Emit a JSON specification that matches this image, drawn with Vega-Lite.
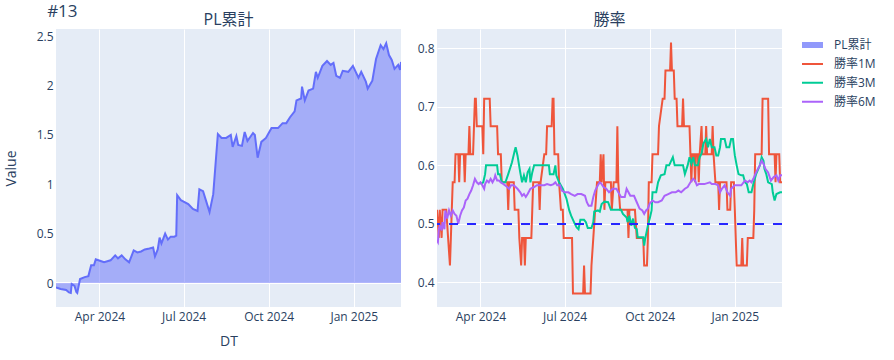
{
"$schema": "https://vega.github.io/schema/vega-lite/v6.json",
"background": "white",
"padding": {"left": 4, "top": 3, "right": 0, "bottom": 0},
"title": {"text": "#13", "anchor": "start", "fontSize": 17, "fontWeight": "normal", "color": "#2a3f5f", "offset": -22, "dx": 43, "baseline": "alphabetic"},
"config": {
  "font": "Open Sans, Noto Sans CJK JP, sans-serif",
  "view": {"fill": "#E5ECF6", "stroke": null},
  "axis": {"gridColor": "white", "gridWidth": 1, "domain": false, "ticks": false, "labelColor": "#2a3f5f", "labelFontSize": 12, "titleColor": "#2a3f5f", "titleFontSize": 14, "titleFontWeight": "normal"},
  "title": {"fontSize": 16, "fontWeight": "normal", "color": "#2a3f5f", "baseline": "alphabetic", "offset": 1},
  "legend": {"labelColor": "#2a3f5f", "labelFontSize": 12}
},
"datasets": {
"pl": [
{"d":"2024-02-14","v":-0.044},{"d":"2024-02-19","v":-0.06},{"d":"2024-02-25","v":-0.07},{"d":"2024-02-28","v":-0.095},{"d":"2024-03-01","v":-0.10},{"d":"2024-03-02","v":-0.01},{"d":"2024-03-05","v":-0.03},{"d":"2024-03-07","v":-0.09},{"d":"2024-03-08","v":-0.10},{"d":"2024-03-11","v":0.04},{"d":"2024-03-16","v":0.06},{"d":"2024-03-20","v":0.07},{"d":"2024-03-23","v":0.18},{"d":"2024-03-26","v":0.18},{"d":"2024-03-28","v":0.24},{"d":"2024-04-03","v":0.22},{"d":"2024-04-06","v":0.21},{"d":"2024-04-13","v":0.23},{"d":"2024-04-18","v":0.28},{"d":"2024-04-21","v":0.25},{"d":"2024-04-25","v":0.28},{"d":"2024-04-29","v":0.24},{"d":"2024-05-03","v":0.21},{"d":"2024-05-08","v":0.33},{"d":"2024-05-12","v":0.31},{"d":"2024-05-16","v":0.32},{"d":"2024-05-20","v":0.34},{"d":"2024-05-25","v":0.35},{"d":"2024-05-29","v":0.36},{"d":"2024-05-31","v":0.27},{"d":"2024-06-03","v":0.34},{"d":"2024-06-05","v":0.46},{"d":"2024-06-07","v":0.40},{"d":"2024-06-11","v":0.50},{"d":"2024-06-14","v":0.44},{"d":"2024-06-17","v":0.47},{"d":"2024-06-21","v":0.47},{"d":"2024-06-23","v":0.48},{"d":"2024-06-24","v":0.89},{"d":"2024-06-28","v":0.84},{"d":"2024-07-06","v":0.80},{"d":"2024-07-11","v":0.75},{"d":"2024-07-16","v":0.73},{"d":"2024-07-18","v":0.95},{"d":"2024-07-22","v":0.93},{"d":"2024-07-25","v":0.84},{"d":"2024-07-29","v":0.72},{"d":"2024-08-02","v":0.90},{"d":"2024-08-07","v":1.51},{"d":"2024-08-11","v":1.47},{"d":"2024-08-16","v":1.47},{"d":"2024-08-21","v":1.50},{"d":"2024-08-23","v":1.38},{"d":"2024-08-27","v":1.49},{"d":"2024-08-29","v":1.40},{"d":"2024-09-02","v":1.39},{"d":"2024-09-05","v":1.53},{"d":"2024-09-08","v":1.44},{"d":"2024-09-11","v":1.48},{"d":"2024-09-14","v":1.52},{"d":"2024-09-16","v":1.50},{"d":"2024-09-19","v":1.27},{"d":"2024-09-23","v":1.43},{"d":"2024-09-28","v":1.47},{"d":"2024-10-04","v":1.57},{"d":"2024-10-11","v":1.57},{"d":"2024-10-16","v":1.62},{"d":"2024-10-20","v":1.62},{"d":"2024-10-24","v":1.68},{"d":"2024-10-29","v":1.74},{"d":"2024-10-31","v":1.85},{"d":"2024-11-05","v":1.87},{"d":"2024-11-06","v":1.99},{"d":"2024-11-09","v":1.85},{"d":"2024-11-13","v":1.95},{"d":"2024-11-18","v":1.97},{"d":"2024-11-21","v":2.14},{"d":"2024-11-23","v":2.08},{"d":"2024-11-28","v":2.20},{"d":"2024-12-03","v":2.25},{"d":"2024-12-07","v":2.21},{"d":"2024-12-10","v":2.23},{"d":"2024-12-13","v":2.10},{"d":"2024-12-17","v":2.08},{"d":"2024-12-20","v":2.15},{"d":"2024-12-26","v":2.14},{"d":"2024-12-31","v":2.20},{"d":"2025-01-06","v":2.08},{"d":"2025-01-09","v":2.14},{"d":"2025-01-14","v":2.04},{"d":"2025-01-16","v":1.97},{"d":"2025-01-21","v":2.05},{"d":"2025-01-25","v":2.27},{"d":"2025-01-30","v":2.41},{"d":"2025-02-02","v":2.37},{"d":"2025-02-05","v":2.43},{"d":"2025-02-08","v":2.31},{"d":"2025-02-11","v":2.26},{"d":"2025-02-14","v":2.17},{"d":"2025-02-18","v":2.21},{"d":"2025-02-20","v":2.16},{"d":"2025-02-21","v":2.24}
],
"m1": [
{"d":"2024-02-14","v":0.524},{"d":"2024-02-16","v":0.476},{"d":"2024-02-17","v":0.524},{"d":"2024-02-19","v":0.476},{"d":"2024-02-20","v":0.524},{"d":"2024-02-24","v":0.524},{"d":"2024-02-26","v":0.476},{"d":"2024-02-28","v":0.429},{"d":"2024-02-29","v":0.476},{"d":"2024-03-01","v":0.524},{"d":"2024-03-02","v":0.571},{"d":"2024-03-04","v":0.571},{"d":"2024-03-05","v":0.619},{"d":"2024-03-08","v":0.619},{"d":"2024-03-09","v":0.571},{"d":"2024-03-10","v":0.619},{"d":"2024-03-14","v":0.619},{"d":"2024-03-15","v":0.571},{"d":"2024-03-16","v":0.619},{"d":"2024-03-19","v":0.619},{"d":"2024-03-20","v":0.667},{"d":"2024-03-21","v":0.619},{"d":"2024-03-24","v":0.619},{"d":"2024-03-25","v":0.667},{"d":"2024-03-26","v":0.714},{"d":"2024-03-27","v":0.714},{"d":"2024-03-28","v":0.667},{"d":"2024-04-03","v":0.667},{"d":"2024-04-04","v":0.619},{"d":"2024-04-05","v":0.714},{"d":"2024-04-11","v":0.714},{"d":"2024-04-12","v":0.667},{"d":"2024-04-19","v":0.667},{"d":"2024-04-20","v":0.619},{"d":"2024-04-23","v":0.619},{"d":"2024-04-24","v":0.571},{"d":"2024-04-30","v":0.571},{"d":"2024-05-01","v":0.524},{"d":"2024-05-02","v":0.571},{"d":"2024-05-07","v":0.571},{"d":"2024-05-08","v":0.524},{"d":"2024-05-12","v":0.524},{"d":"2024-05-13","v":0.476},{"d":"2024-05-15","v":0.429},{"d":"2024-05-16","v":0.476},{"d":"2024-05-18","v":0.476},{"d":"2024-05-19","v":0.429},{"d":"2024-05-20","v":0.476},{"d":"2024-05-26","v":0.476},{"d":"2024-05-27","v":0.524},{"d":"2024-05-28","v":0.571},{"d":"2024-06-03","v":0.571},{"d":"2024-06-04","v":0.524},{"d":"2024-06-05","v":0.571},{"d":"2024-06-09","v":0.619},{"d":"2024-06-11","v":0.619},{"d":"2024-06-12","v":0.667},{"d":"2024-06-17","v":0.667},{"d":"2024-06-18","v":0.714},{"d":"2024-06-19","v":0.714},{"d":"2024-06-20","v":0.619},{"d":"2024-06-24","v":0.619},{"d":"2024-06-25","v":0.571},{"d":"2024-06-27","v":0.524},{"d":"2024-06-29","v":0.524},{"d":"2024-06-30","v":0.476},{"d":"2024-07-09","v":0.476},{"d":"2024-07-10","v":0.381},{"d":"2024-07-21","v":0.381},{"d":"2024-07-22","v":0.429},{"d":"2024-07-23","v":0.381},{"d":"2024-07-29","v":0.381},{"d":"2024-07-30","v":0.429},{"d":"2024-08-01","v":0.476},{"d":"2024-08-03","v":0.524},{"d":"2024-08-05","v":0.571},{"d":"2024-08-08","v":0.571},{"d":"2024-08-09","v":0.619},{"d":"2024-08-10","v":0.571},{"d":"2024-08-12","v":0.619},{"d":"2024-08-13","v":0.524},{"d":"2024-08-14","v":0.571},{"d":"2024-08-20","v":0.571},{"d":"2024-08-21","v":0.524},{"d":"2024-08-23","v":0.571},{"d":"2024-08-26","v":0.571},{"d":"2024-08-27","v":0.667},{"d":"2024-08-28","v":0.571},{"d":"2024-08-30","v":0.524},{"d":"2024-09-07","v":0.524},{"d":"2024-09-08","v":0.476},{"d":"2024-09-09","v":0.524},{"d":"2024-09-15","v":0.524},{"d":"2024-09-17","v":0.476},{"d":"2024-09-24","v":0.476},{"d":"2024-09-25","v":0.429},{"d":"2024-09-28","v":0.429},{"d":"2024-09-29","v":0.476},{"d":"2024-09-30","v":0.571},{"d":"2024-10-03","v":0.571},{"d":"2024-10-04","v":0.619},{"d":"2024-10-10","v":0.619},{"d":"2024-10-11","v":0.667},{"d":"2024-10-15","v":0.714},{"d":"2024-10-17","v":0.714},{"d":"2024-10-18","v":0.762},{"d":"2024-10-23","v":0.762},{"d":"2024-10-24","v":0.810},{"d":"2024-10-25","v":0.762},{"d":"2024-10-27","v":0.762},{"d":"2024-10-28","v":0.714},{"d":"2024-10-30","v":0.714},{"d":"2024-10-31","v":0.667},{"d":"2024-11-05","v":0.667},{"d":"2024-11-06","v":0.714},{"d":"2024-11-07","v":0.667},{"d":"2024-11-13","v":0.667},{"d":"2024-11-14","v":0.619},{"d":"2024-11-15","v":0.571},{"d":"2024-11-16","v":0.619},{"d":"2024-11-18","v":0.619},{"d":"2024-11-19","v":0.571},{"d":"2024-11-20","v":0.619},{"d":"2024-11-22","v":0.619},{"d":"2024-11-23","v":0.571},{"d":"2024-11-24","v":0.619},{"d":"2024-11-26","v":0.667},{"d":"2024-11-27","v":0.619},{"d":"2024-11-30","v":0.619},{"d":"2024-12-01","v":0.667},{"d":"2024-12-02","v":0.619},{"d":"2024-12-07","v":0.619},{"d":"2024-12-08","v":0.667},{"d":"2024-12-09","v":0.619},{"d":"2024-12-11","v":0.571},{"d":"2024-12-14","v":0.571},{"d":"2024-12-15","v":0.524},{"d":"2024-12-16","v":0.571},{"d":"2024-12-23","v":0.571},{"d":"2024-12-24","v":0.524},{"d":"2024-12-27","v":0.524},{"d":"2024-12-28","v":0.571},{"d":"2024-12-31","v":0.571},{"d":"2025-01-01","v":0.524},{"d":"2025-01-02","v":0.476},{"d":"2025-01-03","v":0.429},{"d":"2025-01-08","v":0.429},{"d":"2025-01-09","v":0.476},{"d":"2025-01-10","v":0.429},{"d":"2025-01-14","v":0.429},{"d":"2025-01-15","v":0.476},{"d":"2025-01-21","v":0.476},{"d":"2025-01-22","v":0.524},{"d":"2025-01-23","v":0.619},{"d":"2025-01-30","v":0.619},{"d":"2025-01-31","v":0.714},{"d":"2025-02-06","v":0.714},{"d":"2025-02-07","v":0.619},{"d":"2025-02-13","v":0.619},{"d":"2025-02-14","v":0.571},{"d":"2025-02-15","v":0.619},{"d":"2025-02-18","v":0.619},{"d":"2025-02-19","v":0.571},{"d":"2025-02-21","v":0.571}
],
"m3": [
{"d":"2024-04-01","v":0.568},{"d":"2024-04-04","v":0.571},{"d":"2024-04-06","v":0.585},{"d":"2024-04-07","v":0.600},{"d":"2024-04-19","v":0.600},{"d":"2024-04-20","v":0.585},{"d":"2024-04-22","v":0.585},{"d":"2024-04-24","v":0.571},{"d":"2024-04-28","v":0.571},{"d":"2024-05-01","v":0.585},{"d":"2024-05-05","v":0.605},{"d":"2024-05-08","v":0.625},{"d":"2024-05-09","v":0.631},{"d":"2024-05-11","v":0.617},{"d":"2024-05-14","v":0.588},{"d":"2024-05-16","v":0.571},{"d":"2024-05-18","v":0.583},{"d":"2024-05-20","v":0.571},{"d":"2024-05-22","v":0.588},{"d":"2024-05-24","v":0.594},{"d":"2024-05-25","v":0.571},{"d":"2024-05-27","v":0.588},{"d":"2024-05-29","v":0.600},{"d":"2024-06-14","v":0.600},{"d":"2024-06-15","v":0.585},{"d":"2024-06-19","v":0.585},{"d":"2024-06-21","v":0.600},{"d":"2024-06-22","v":0.583},{"d":"2024-06-25","v":0.571},{"d":"2024-06-29","v":0.560},{"d":"2024-07-03","v":0.543},{"d":"2024-07-06","v":0.523},{"d":"2024-07-08","v":0.514},{"d":"2024-07-12","v":0.500},{"d":"2024-07-14","v":0.494},{"d":"2024-07-16","v":0.491},{"d":"2024-07-18","v":0.507},{"d":"2024-07-22","v":0.507},{"d":"2024-07-24","v":0.503},{"d":"2024-07-26","v":0.493},{"d":"2024-07-30","v":0.493},{"d":"2024-08-01","v":0.503},{"d":"2024-08-02","v":0.521},{"d":"2024-08-06","v":0.523},{"d":"2024-08-08","v":0.521},{"d":"2024-08-10","v":0.534},{"d":"2024-08-13","v":0.538},{"d":"2024-08-17","v":0.537},{"d":"2024-08-20","v":0.524},{"d":"2024-08-31","v":0.524},{"d":"2024-09-02","v":0.517},{"d":"2024-09-06","v":0.511},{"d":"2024-09-07","v":0.503},{"d":"2024-09-09","v":0.514},{"d":"2024-09-11","v":0.497},{"d":"2024-09-13","v":0.509},{"d":"2024-09-15","v":0.493},{"d":"2024-09-17","v":0.491},{"d":"2024-09-18","v":0.477},{"d":"2024-09-24","v":0.477},{"d":"2024-09-25","v":0.463},{"d":"2024-09-26","v":0.474},{"d":"2024-09-29","v":0.497},{"d":"2024-10-01","v":0.509},{"d":"2024-10-03","v":0.523},{"d":"2024-10-04","v":0.554},{"d":"2024-10-08","v":0.554},{"d":"2024-10-10","v":0.571},{"d":"2024-10-13","v":0.583},{"d":"2024-10-17","v":0.585},{"d":"2024-10-19","v":0.600},{"d":"2024-10-22","v":0.600},{"d":"2024-10-26","v":0.614},{"d":"2024-10-28","v":0.600},{"d":"2024-11-06","v":0.600},{"d":"2024-11-08","v":0.585},{"d":"2024-11-11","v":0.600},{"d":"2024-11-13","v":0.614},{"d":"2024-11-15","v":0.603},{"d":"2024-11-17","v":0.614},{"d":"2024-11-19","v":0.600},{"d":"2024-11-22","v":0.600},{"d":"2024-11-24","v":0.614},{"d":"2024-11-26","v":0.620},{"d":"2024-11-28","v":0.637},{"d":"2024-12-01","v":0.645},{"d":"2024-12-03","v":0.631},{"d":"2024-12-05","v":0.645},{"d":"2024-12-07","v":0.631},{"d":"2024-12-10","v":0.631},{"d":"2024-12-12","v":0.617},{"d":"2024-12-14","v":0.617},{"d":"2024-12-16","v":0.631},{"d":"2024-12-17","v":0.645},{"d":"2024-12-21","v":0.645},{"d":"2024-12-23","v":0.631},{"d":"2024-12-26","v":0.631},{"d":"2024-12-28","v":0.645},{"d":"2024-12-30","v":0.645},{"d":"2025-01-01","v":0.617},{"d":"2025-01-03","v":0.600},{"d":"2025-01-05","v":0.585},{"d":"2025-01-08","v":0.583},{"d":"2025-01-10","v":0.583},{"d":"2025-01-12","v":0.571},{"d":"2025-01-14","v":0.568},{"d":"2025-01-16","v":0.554},{"d":"2025-01-19","v":0.554},{"d":"2025-01-21","v":0.568},{"d":"2025-01-24","v":0.585},{"d":"2025-01-28","v":0.600},{"d":"2025-01-30","v":0.614},{"d":"2025-02-01","v":0.608},{"d":"2025-02-02","v":0.594},{"d":"2025-02-04","v":0.585},{"d":"2025-02-06","v":0.571},{"d":"2025-02-10","v":0.568},{"d":"2025-02-11","v":0.554},{"d":"2025-02-13","v":0.540},{"d":"2025-02-15","v":0.551},{"d":"2025-02-19","v":0.554},{"d":"2025-02-21","v":0.554}
],
"m6": [
{"d":"2024-02-14","v":0.472},{"d":"2024-02-15","v":0.469},{"d":"2024-02-16","v":0.491},{"d":"2024-02-17","v":0.497},{"d":"2024-02-19","v":0.489},{"d":"2024-02-20","v":0.503},{"d":"2024-02-22","v":0.491},{"d":"2024-02-23","v":0.523},{"d":"2024-02-25","v":0.509},{"d":"2024-02-27","v":0.523},{"d":"2024-02-29","v":0.514},{"d":"2024-03-02","v":0.523},{"d":"2024-03-04","v":0.517},{"d":"2024-03-06","v":0.514},{"d":"2024-03-08","v":0.500},{"d":"2024-03-10","v":0.514},{"d":"2024-03-12","v":0.523},{"d":"2024-03-14","v":0.528},{"d":"2024-03-16","v":0.540},{"d":"2024-03-18","v":0.543},{"d":"2024-03-20","v":0.551},{"d":"2024-03-22","v":0.557},{"d":"2024-03-24","v":0.566},{"d":"2024-03-26","v":0.577},{"d":"2024-03-28","v":0.571},{"d":"2024-03-30","v":0.568},{"d":"2024-04-01","v":0.571},{"d":"2024-04-03","v":0.566},{"d":"2024-04-05","v":0.560},{"d":"2024-04-06","v":0.568},{"d":"2024-04-08","v":0.574},{"d":"2024-04-10","v":0.571},{"d":"2024-04-12","v":0.577},{"d":"2024-04-14","v":0.571},{"d":"2024-04-16","v":0.577},{"d":"2024-04-17","v":0.583},{"d":"2024-04-19","v":0.574},{"d":"2024-04-21","v":0.574},{"d":"2024-04-23","v":0.571},{"d":"2024-04-26","v":0.568},{"d":"2024-04-30","v":0.563},{"d":"2024-05-02","v":0.560},{"d":"2024-05-04","v":0.566},{"d":"2024-05-07","v":0.566},{"d":"2024-05-11","v":0.560},{"d":"2024-05-14","v":0.554},{"d":"2024-05-16","v":0.548},{"d":"2024-05-18","v":0.551},{"d":"2024-05-20","v":0.546},{"d":"2024-05-22","v":0.551},{"d":"2024-05-25","v":0.560},{"d":"2024-05-29","v":0.563},{"d":"2024-06-01","v":0.566},{"d":"2024-06-05","v":0.566},{"d":"2024-06-09","v":0.566},{"d":"2024-06-12","v":0.568},{"d":"2024-06-16","v":0.566},{"d":"2024-06-19","v":0.568},{"d":"2024-06-21","v":0.571},{"d":"2024-06-23","v":0.566},{"d":"2024-06-26","v":0.566},{"d":"2024-06-28","v":0.557},{"d":"2024-07-01","v":0.554},{"d":"2024-07-05","v":0.554},{"d":"2024-07-08","v":0.551},{"d":"2024-07-12","v":0.548},{"d":"2024-07-15","v":0.551},{"d":"2024-07-19","v":0.551},{"d":"2024-07-23","v":0.548},{"d":"2024-07-25","v":0.537},{"d":"2024-07-27","v":0.531},{"d":"2024-07-30","v":0.531},{"d":"2024-08-01","v":0.546},{"d":"2024-08-03","v":0.557},{"d":"2024-08-06","v":0.566},{"d":"2024-08-08","v":0.571},{"d":"2024-08-10","v":0.568},{"d":"2024-08-12","v":0.563},{"d":"2024-08-15","v":0.560},{"d":"2024-08-18","v":0.554},{"d":"2024-08-22","v":0.560},{"d":"2024-08-26","v":0.560},{"d":"2024-08-28","v":0.554},{"d":"2024-08-31","v":0.546},{"d":"2024-09-04","v":0.546},{"d":"2024-09-06","v":0.560},{"d":"2024-09-08","v":0.554},{"d":"2024-09-10","v":0.548},{"d":"2024-09-14","v":0.548},{"d":"2024-09-17","v":0.537},{"d":"2024-09-20","v":0.526},{"d":"2024-09-23","v":0.523},{"d":"2024-09-25","v":0.517},{"d":"2024-09-27","v":0.523},{"d":"2024-09-29","v":0.526},{"d":"2024-10-01","v":0.535},{"d":"2024-10-04","v":0.540},{"d":"2024-10-07","v":0.537},{"d":"2024-10-10","v":0.537},{"d":"2024-10-14","v":0.540},{"d":"2024-10-17","v":0.548},{"d":"2024-10-21","v":0.551},{"d":"2024-10-25","v":0.554},{"d":"2024-10-29","v":0.554},{"d":"2024-11-01","v":0.557},{"d":"2024-11-04","v":0.554},{"d":"2024-11-08","v":0.560},{"d":"2024-11-11","v":0.563},{"d":"2024-11-14","v":0.571},{"d":"2024-11-17","v":0.577},{"d":"2024-11-19","v":0.574},{"d":"2024-11-21","v":0.566},{"d":"2024-11-23","v":0.568},{"d":"2024-11-29","v":0.568},{"d":"2024-12-05","v":0.571},{"d":"2024-12-07","v":0.568},{"d":"2024-12-11","v":0.568},{"d":"2024-12-14","v":0.566},{"d":"2024-12-16","v":0.554},{"d":"2024-12-18","v":0.560},{"d":"2024-12-21","v":0.566},{"d":"2024-12-24","v":0.554},{"d":"2024-12-27","v":0.548},{"d":"2024-12-28","v":0.560},{"d":"2024-12-30","v":0.563},{"d":"2025-01-01","v":0.566},{"d":"2025-01-05","v":0.566},{"d":"2025-01-08","v":0.566},{"d":"2025-01-12","v":0.574},{"d":"2025-01-15","v":0.571},{"d":"2025-01-17","v":0.574},{"d":"2025-01-19","v":0.571},{"d":"2025-01-21","v":0.577},{"d":"2025-01-24","v":0.588},{"d":"2025-01-28","v":0.600},{"d":"2025-01-30","v":0.608},{"d":"2025-02-01","v":0.603},{"d":"2025-02-03","v":0.594},{"d":"2025-02-06","v":0.588},{"d":"2025-02-09","v":0.574},{"d":"2025-02-12","v":0.580},{"d":"2025-02-15","v":0.583},{"d":"2025-02-17","v":0.574},{"d":"2025-02-19","v":0.583},{"d":"2025-02-21","v":0.583}
]
},
"spacing": 36,
"bounds": "flush",
"resolve": {"scale": {"color": "shared"}},
"hconcat": [
{
 "width": 345, "height": 278,
 "title": {"text": "PL累計"},
 "layer": [
  {"data": {"name": "pl"}, "mark": {"type": "rule", "color": "white", "strokeWidth": 2}, "encoding": {"y": {"datum": 0, "type": "quantitative"}}},
  {"data": {"name": "pl"}, "mark": {"type": "area", "line": {"strokeWidth": 2}, "fillOpacity": 0.5, "clip": true},
   "encoding": {
    "x": {"field": "d", "type": "temporal", "scale": {"type": "utc", "domain": [{"year": 2024, "month": 2, "date": 14, "utc": true}, {"year": 2025, "month": 2, "date": 21, "utc": true}], "nice": false},
          "axis": {"title": "DT", "format": "%b %Y", "values": [{"year": 2024, "month": 4, "date": 1, "utc": true}, {"year": 2024, "month": 7, "date": 1, "utc": true}, {"year": 2024, "month": 10, "date": 1, "utc": true}, {"year": 2025, "month": 1, "date": 1, "utc": true}], "labelPadding": 4, "titlePadding": 12, "labelFlush": false}},
    "y": {"field": "v", "type": "quantitative", "scale": {"domain": [-0.243, 2.574], "nice": false, "zero": false},
          "axis": {"title": "Value", "values": [0, 0.5, 1, 1.5, 2, 2.5], "format": "~g", "labelPadding": 3, "titlePadding": 18}},
    "y2": {"datum": 0},
    "color": {"datum": "PL累計", "type": "nominal",
              "scale": {"domain": ["PL累計", "勝率1M", "勝率3M", "勝率6M"], "range": ["#636efa", "#EF553B", "#00cc96", "#ab63fa"]},
              "legend": {"title": null, "orient": "right", "offset": 10, "padding": 9, "symbolType": "stroke", "symbolSize": 900, "symbolStrokeWidth": 2, "clipHeight": 14, "rowPadding": 4.9, "labelOffset": 20,
                         "encode": {"symbols": {"update": {"strokeWidth": {"signal": "datum.value === 'PL累計' ? 6 : 2"}, "stroke": {"signal": "scale('color', datum.value)"}, "strokeOpacity": {"signal": "datum.value === 'PL累計' ? 0.7 : 1"}, "opacity": {"value": 1}, "fill": {"value": "transparent"}}}}}}
   }}
 ]
},
{
 "width": 345, "height": 278,
 "title": {"text": "勝率"},
 "layer": [
  {"data": {"name": "m1"}, "mark": {"type": "line", "strokeWidth": 2, "clip": true},
   "encoding": {
    "x": {"field": "d", "type": "temporal", "scale": {"type": "utc", "domain": [{"year": 2024, "month": 2, "date": 14, "utc": true}, {"year": 2025, "month": 2, "date": 21, "utc": true}], "nice": false},
          "axis": {"title": null, "format": "%b %Y", "values": [{"year": 2024, "month": 4, "date": 1, "utc": true}, {"year": 2024, "month": 7, "date": 1, "utc": true}, {"year": 2024, "month": 10, "date": 1, "utc": true}, {"year": 2025, "month": 1, "date": 1, "utc": true}], "labelPadding": 4, "labelFlush": false}},
    "y": {"field": "v", "type": "quantitative", "scale": {"domain": [0.358, 0.833], "nice": false, "zero": false},
          "axis": {"title": null, "values": [0.4, 0.5, 0.6, 0.7, 0.8], "format": ".1f", "labelPadding": 3}},
    "color": {"datum": "勝率1M", "type": "nominal"}}},
  {"data": {"name": "m3"}, "mark": {"type": "line", "strokeWidth": 2, "clip": true},
   "encoding": {"x": {"field": "d", "type": "temporal"}, "y": {"field": "v", "type": "quantitative"}, "color": {"datum": "勝率3M", "type": "nominal"}}},
  {"data": {"name": "m6"}, "mark": {"type": "line", "strokeWidth": 2, "clip": true},
   "encoding": {"x": {"field": "d", "type": "temporal"}, "y": {"field": "v", "type": "quantitative"}, "color": {"datum": "勝率6M", "type": "nominal"}}},
  {"data": {"name": "m1"}, "mark": {"type": "rule", "color": "#2828ff", "strokeWidth": 1, "strokeDash": [9, 9]}, "encoding": {"y": {"datum": 0.5, "type": "quantitative"}}}
 ]
}
]
}
